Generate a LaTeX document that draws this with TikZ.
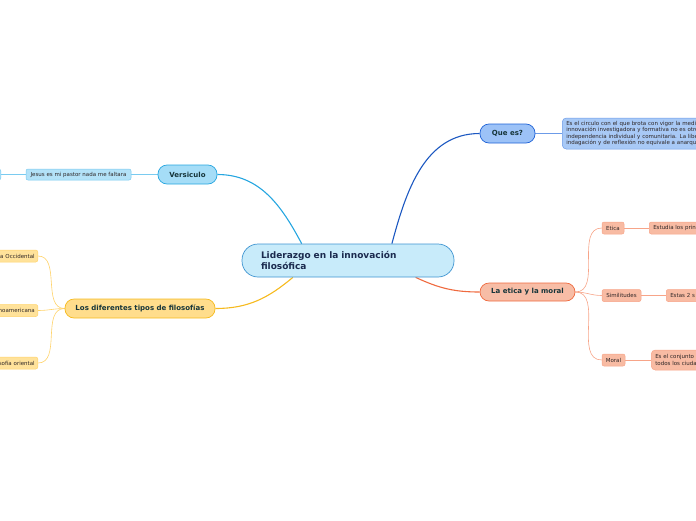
\documentclass[tikz,border=0pt]{standalone}
\usepackage{fontspec}
\setmainfont{DejaVu Sans}
\usepackage{tikz}
\usetikzlibrary{positioning,backgrounds}
\definecolor{rootfill}{HTML}{C8EBFA}
\definecolor{rootline}{HTML}{3E94D1}
\definecolor{rootink}{HTML}{1B2A4E}
\definecolor{quefill}{HTML}{9CC2F7}
\definecolor{queline}{HTML}{1F62D6}
\definecolor{descfill}{HTML}{A8C9F6}
\definecolor{descline}{HTML}{6C9BE8}
\definecolor{versfill}{HTML}{A5DDF7}
\definecolor{versline}{HTML}{26A6E0}
\definecolor{jesfill}{HTML}{B3E2F8}
\definecolor{jesline}{HTML}{7ACBF0}
\definecolor{filofill}{HTML}{FFDD8C}
\definecolor{filoline}{HTML}{F6BA1E}
\definecolor{subyfill}{HTML}{FFE29A}
\definecolor{subyline}{HTML}{FFD36A}
\definecolor{eticfill}{HTML}{F7BDA6}
\definecolor{eticline}{HTML}{EF6A3F}
\definecolor{subofill}{HTML}{F8BBA3}
\definecolor{suboline}{HTML}{F7A488}
\definecolor{mainink}{HTML}{16353A}
\definecolor{subink}{HTML}{2E2626}
\tikzset{
  root/.style  ={draw=rootline, fill=rootfill, rounded corners=16pt, minimum width=212pt, minimum height=33pt, text width=174pt, inner xsep=19pt, align=left, font=\bfseries\fontsize{9}{10.5}\selectfont, text=rootink, line width=0.7pt},
  topic/.style ={draw, rounded corners=9pt, minimum height=19pt, inner sep=0pt, font=\bfseries\fontsize{7}{8}\selectfont, text=mainink, line width=0.7pt},
  leaf/.style  ={draw, rounded corners=2pt, minimum height=12pt, inner sep=0pt, font=\fontsize{5.5}{6.6}\selectfont, text=subink, line width=0.5pt},
  twig/.style  ={line width=0.6pt},
  link/.style  ={line width=1.1pt},
}
\begin{document}
\begin{tikzpicture}[x=1pt, y=-1pt]
  \useasboundingbox (0,0) rectangle (696,520);
  \clip (0,0) rectangle (696,520);

  % centre
  \node[root] (lider) at (348,260.5) {Liderazgo en la innovación\\filosófica};

  % main topics
  \node[topic, draw=queline, fill=quefill, minimum width=55pt] (que) at (507.5,133.5) {Que es?};
  \node[topic, draw=versline, fill=versfill, minimum width=59pt] (vers) at (187.5,174.5) {Versiculo};
  \node[topic, draw=filoline, fill=filofill, minimum width=150pt] (filo) at (140,308.5) {Los diferentes tipos de filosofías};
  \node[topic, draw=eticline, fill=eticfill, minimum width=95pt, minimum height=18pt] (etic) at (527.5,292) {La etica y la moral};

  % Que es?
  \node[leaf, draw=descline, fill=descfill, anchor=west, minimum height=31pt, inner xsep=4pt, text width=170pt, align=left, rounded corners=4pt] (desc) at (562,133.5)
    {Es el circulo con el que brota con vigor la medi\\innovación investigadora y formativa no es otro\\independencia individual y comunitaria. La liber\\indagación y de reflexión no equivale a anarqui};

  % Versiculo
  \node[leaf, draw=jesline, fill=jesfill, minimum width=105pt, minimum height=11pt] (jesus) at (78.5,174.5) {Jesus es mi pastor nada me faltara};
  \node[leaf, draw=jesline, fill=jesfill, anchor=east, minimum width=40pt, minimum height=11pt] (jesus2) at (1,174.5) {};

  % filosofias
  \node[leaf, draw=subyline, fill=subyfill, anchor=east, text width=70pt, align=right, inner xsep=3pt] (occ) at (38,256) {a Occidental};
  \node[leaf, draw=subyline, fill=subyfill, anchor=east, text width=70pt, align=right, inner xsep=3pt] (lat) at (38,310.5) {noamericana};
  \node[leaf, draw=subyline, fill=subyfill, anchor=east, text width=70pt, align=right, inner xsep=3pt] (ori) at (38,363) {sofía oriental};

  % etica y moral
  \node[leaf, draw=suboline, fill=subofill, minimum width=22pt] (etica) at (613,228) {Etica};
  \node[leaf, draw=suboline, fill=subofill, minimum width=39pt] (simil) at (621.5,295.5) {Similitudes};
  \node[leaf, draw=suboline, fill=subofill, minimum width=23pt] (moral) at (613.5,360) {Moral};
  \node[leaf, draw=suboline, fill=subofill, anchor=west, inner xsep=4pt, text width=60pt, align=left] (estu) at (649,228) {Estudia los prin};
  \node[leaf, draw=suboline, fill=subofill, anchor=west, inner xsep=4pt, text width=40pt, align=left] (estas) at (666,295.5) {Estas 2 s};
  \node[leaf, draw=suboline, fill=subofill, anchor=west, inner xsep=4pt, text width=60pt, align=left, minimum height=20pt, rounded corners=4pt] (conj) at (651,360) {Es el conjunto\\todos los ciuda};

  \begin{scope}[on background layer]
    \draw[link, draw=queline!90!black] (lider.21) to[out=75, in=180] (que.west);
    \draw[link, draw=versline] (lider.160) to[out=118, in=0] (vers.east);
    \draw[link, draw=filoline] (lider.197) to[out=220, in=0] (filo.east);
    \draw[link, draw=eticline] (lider.346) to[out=-25, in=180] (etic.west);

    \draw[twig, draw=descline] (que.east) -- (desc.west);
    \draw[twig, draw=jesline] (vers.west) -- (jesus.east);
    \draw[twig, draw=jesline] (jesus.west) -- (jesus2.east);

    \draw[twig, draw=subyline] (filo.west) to[out=180, in=0] (occ.east);
    \draw[twig, draw=subyline] (filo.west) to[out=180, in=0] (lat.east);
    \draw[twig, draw=subyline] (filo.west) to[out=180, in=0] (ori.east);

    \draw[twig, draw=suboline] (etic.east) to[out=0, in=180] (etica.west);
    \draw[twig, draw=suboline] (etic.east) to[out=0, in=180] (simil.west);
    \draw[twig, draw=suboline] (etic.east) to[out=0, in=180] (moral.west);
    \draw[twig, draw=suboline] (etica.east) -- (estu.west);
    \draw[twig, draw=suboline] (simil.east) -- (estas.west);
    \draw[twig, draw=suboline] (moral.east) -- (conj.west);
  \end{scope}
\end{tikzpicture}
\end{document}
